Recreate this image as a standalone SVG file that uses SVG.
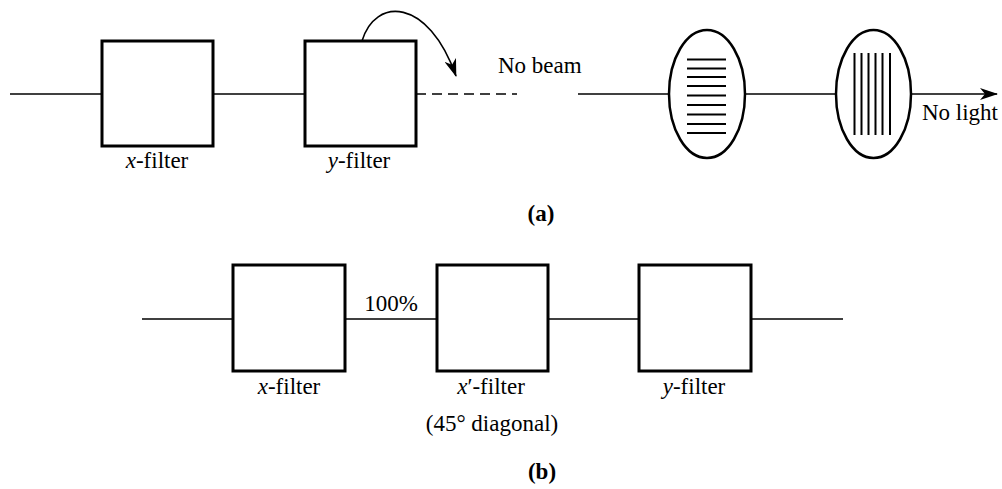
<svg xmlns="http://www.w3.org/2000/svg" width="1002" height="489" viewBox="0 0 1002 489">
<style>
.box{fill:none;stroke:#000;stroke-width:3}
.ell{fill:none;stroke:#000;stroke-width:2.5}
.ln{fill:none;stroke:#000;stroke-width:1.6}
.hatch{stroke:#000;stroke-width:2}
text{font-family:'Liberation Serif','Times New Roman',Times,'DejaVu Serif',serif;font-size:23px;fill:#000}
.i{font-style:italic}
.b{font-weight:bold}
</style>
<defs>
<marker id="ah" viewBox="0 0 18 12" refX="17" refY="6" markerWidth="18" markerHeight="12" markerUnits="userSpaceOnUse" orient="auto">
<path d="M0,0 L18,6 L0,12 L5,6 Z" fill="#000"/>
</marker>
</defs>
<rect width="1002" height="489" fill="#fff"/>
<g id="connectors">
<line class="ln" x1="10" y1="94" x2="102" y2="94"/>
<line class="ln" x1="213" y1="94" x2="305" y2="94"/>
<line class="ln" x1="416" y1="94" x2="517" y2="94" stroke-dasharray="10 6"/>
<path class="ln" d="M362,41 C375,-3 428,-3 456,76" marker-end="url(#ah)"/>
<line class="ln" x1="578" y1="94" x2="669" y2="94"/>
<line class="ln" x1="745" y1="94" x2="836" y2="94"/>
<line class="ln" x1="911" y1="94" x2="997" y2="94" marker-end="url(#ah)"/>
<line class="ln" x1="142" y1="319" x2="233" y2="319"/>
<line class="ln" x1="345" y1="319" x2="437" y2="319"/>
<line class="ln" x1="548" y1="319" x2="639" y2="319"/>
<line class="ln" x1="751" y1="319" x2="843" y2="319"/>
</g>
<g id="a-xfilter">
<rect class="box" x="102" y="41" width="111" height="105"/>
<text font-family="Liberation Serif, serif" x="157" y="168" text-anchor="middle"><tspan class="i">x</tspan>-filter</text>
</g>
<g id="a-yfilter">
<rect class="box" x="305" y="41" width="111" height="105"/>
<text font-family="Liberation Serif, serif" x="359" y="168" text-anchor="middle"><tspan class="i">y</tspan>-filter</text>
</g>
<g id="nobeam">
<text x="498" y="73">No beam</text>
</g>
<g id="polarizer-h">
<ellipse class="ell" cx="707" cy="94" rx="38" ry="64"/>
<g class="hatch">
<line x1="687" y1="59.5" x2="726" y2="59.5"/>
<line x1="687" y1="68.5" x2="726" y2="68.5"/>
<line x1="687" y1="77" x2="726" y2="77"/>
<line x1="687" y1="86" x2="726" y2="86"/>
<line x1="687" y1="95.5" x2="726" y2="95.5"/>
<line x1="687" y1="105" x2="726" y2="105"/>
<line x1="687" y1="114.5" x2="726" y2="114.5"/>
<line x1="687" y1="124" x2="726" y2="124"/>
<line x1="687" y1="133" x2="726" y2="133"/>
</g>
</g>
<g id="polarizer-v">
<ellipse class="ell" cx="873.5" cy="94" rx="37.5" ry="64"/>
<g class="hatch">
<line x1="854.5" y1="53" x2="854.5" y2="135"/>
<line x1="861.5" y1="53" x2="861.5" y2="135"/>
<line x1="868.5" y1="53" x2="868.5" y2="135"/>
<line x1="875.5" y1="53" x2="875.5" y2="135"/>
<line x1="882.5" y1="53" x2="882.5" y2="135"/>
<line x1="890" y1="53" x2="890" y2="135"/>
</g>
</g>
<g id="nolight">
<text x="960" y="120" text-anchor="middle">No light</text>
</g>
<g id="label-a">
<text class="b" x="541" y="221" text-anchor="middle">(a)</text>
</g>
<g id="b-xfilter">
<rect class="box" x="233" y="265" width="112" height="106"/>
<text x="289" y="394" text-anchor="middle"><tspan class="i">x</tspan>-filter</text>
</g>
<g id="pct">
<text x="391" y="311" text-anchor="middle">100%</text>
</g>
<g id="b-xpfilter">
<rect class="box" x="437" y="265" width="111" height="106"/>
<text x="491" y="394" text-anchor="middle"><tspan class="i">x</tspan>′-filter</text>
<text x="492" y="431" text-anchor="middle">(45° diagonal)</text>
</g>
<g id="b-yfilter">
<rect class="box" x="639" y="265" width="112" height="106"/>
<text x="694" y="394" text-anchor="middle"><tspan class="i">y</tspan>-filter</text>
</g>
<g id="label-b">
<text class="b" x="542" y="479" text-anchor="middle">(b)</text>
</g>
</svg>
